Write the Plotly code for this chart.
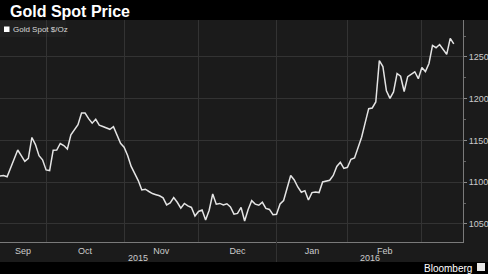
import pandas as pd
import plotly.graph_objects as go

# ---- data -------------------------------------------------------------
holidays = ["2015-12-25", "2016-01-01"]
dates = [d for d in pd.bdate_range("2015-09-14", "2016-03-14")
         if d.strftime("%Y-%m-%d") not in holidays]

prices = [
    1107.5, 1108.1, 1106.6, 1117.3, 1127.8, 1138.6, 1131.8, 1125.0, 1128.7, 1153.6,
    1145.1, 1131.8, 1126.9, 1114.7, 1114.0, 1138.3, 1138.6, 1146.4, 1143.9, 1139.8,
    1156.9, 1163.2, 1168.9, 1182.9, 1182.8, 1176.1, 1170.7, 1175.4, 1168.4, 1166.8,
    1165.1, 1163.4, 1166.5, 1156.6, 1146.6, 1141.9, 1132.0, 1118.9, 1109.9, 1102.0,
    1090.7, 1091.6, 1088.9, 1086.4, 1085.1, 1083.8, 1081.3, 1072.8, 1075.2, 1081.7,
    1076.0, 1068.9, 1074.6, 1071.6, 1069.8, 1059.6, 1065.0, 1066.8, 1054.8, 1066.4,
    1085.9, 1073.7, 1074.6, 1072.8, 1074.2, 1070.4, 1061.7, 1062.6, 1069.8, 1053.6,
    1067.4, 1077.9, 1073.8, 1072.4, 1076.0, 1068.7, 1067.4, 1061.0, 1061.6, 1074.0,
    1078.1, 1093.1, 1108.0, 1102.7, 1094.3, 1088.0, 1089.9, 1078.7, 1087.6, 1088.3,
    1087.6, 1100.3, 1100.9, 1102.3, 1108.1, 1118.9, 1123.9, 1116.5, 1117.9, 1127.5,
    1129.0, 1141.0, 1153.8, 1171.0, 1188.1, 1188.9, 1196.1, 1245.6, 1238.6, 1209.5,
    1200.5, 1208.1, 1230.2, 1226.9, 1208.7, 1226.4, 1229.4, 1232.3, 1224.0, 1237.3,
    1232.5, 1242.2, 1263.8, 1261.1, 1264.9, 1259.6, 1253.2, 1272.2, 1265.6,
]
n = min(len(dates), len(prices))
dates = dates[:n]
prices = prices[:n]

y_ticks = [1050, 1100, 1150, 1200, 1250]
series_name = "Gold Spot $/Oz"
title_text = "Gold Spot Price"
year_labels = ["2015", "2016"]

# ---- month label / grid positions (trading-day axis) -------------------
idx = pd.DatetimeIndex(dates)
months = idx.to_period("M")
firsts = [i for i in range(len(idx)) if i == 0 or months[i] != months[i - 1]]
label_pos, label_txt = [], []
for k in range(len(firsts) - 1):
    mid = (firsts[k] + firsts[k + 1]) / 2.0
    base = idx[int(mid)]
    label_pos.append(base + pd.Timedelta(days=mid - int(mid)))
    label_txt.append(idx[firsts[k]].strftime("%b"))
grid_pos = [idx[i] for i in firsts[1:]]
year_start = [idx[i] for i in firsts[1:] if idx[i].month == 1][0]
x_end = idx[-1] + pd.Timedelta(days=2.6)

# ---- figure -------------------------------------------------------------
W, H = 488, 274
L, R, T, B = 0, 25, 20, 32
pw, ph = W - L - R, H - T - B


def px(x):
    return (x - L) / pw


def py(y):
    return (H - B - y) / ph


panel = "#1b1b1b"
grid = "#333333"

fig = go.Figure()
fig.add_trace(go.Scatter(
    x=dates, y=prices, mode="lines", name=series_name,
    line=dict(color="#e4e4e4", width=1.5), hoverinfo="x+y",
))

shapes = [
    dict(type="rect", xref="paper", yref="paper", x0=px(0), x1=px(W), y0=py(262), y1=py(T),
         fillcolor=panel, line=dict(width=0), layer="below"),
    dict(type="rect", xref="paper", yref="paper", x0=px(0), x1=px(66), y0=py(37), y1=py(21),
         fillcolor="#202020", line=dict(width=0), layer="below"),
    dict(type="rect", xref="paper", yref="paper", x0=px(4), x1=px(9.5), y0=py(32), y1=py(26.5),
         fillcolor="#ffffff", line=dict(width=0)),
    dict(type="line", xref="x", yref="paper", x0=year_start, x1=year_start, y0=py(262), y1=0,
         line=dict(color=grid, width=1)),
    dict(type="rect", xref="paper", yref="paper", x0=px(477), x1=px(485), y0=py(271), y1=py(263),
         fillcolor="#e8e8e8", line=dict(width=0)),
]

annotations = [
    dict(text=series_name, xref="paper", yref="paper", x=px(11), y=py(29.5),
         xanchor="left", yanchor="middle", showarrow=False,
         font=dict(size=8, color="#d8d8d8")),
    dict(text=year_labels[0], xref="paper", yref="paper", x=px(138), y=py(257.5),
         xanchor="center", yanchor="middle", showarrow=False,
         font=dict(size=9, color="#cccccc")),
    dict(text=year_labels[1], xref="paper", yref="paper", x=px(369.5), y=py(257.5),
         xanchor="center", yanchor="middle", showarrow=False,
         font=dict(size=9, color="#cccccc")),
    dict(text="Bloomberg", xref="paper", yref="paper", x=px(474), y=py(268),
         xanchor="right", yanchor="middle", showarrow=False,
         font=dict(size=10, color="#ffffff")),
]

fig.update_layout(
    width=W, height=H,
    margin=dict(l=L, r=R, t=T, b=B),
    paper_bgcolor="#000000", plot_bgcolor=panel,
    showlegend=False,
    font=dict(family="Liberation Sans", color="#cccccc", size=9),
    title=dict(text=title_text, xref="container", yref="container",
               x=10 / W, xanchor="left", y=1 - 11.5 / H, yanchor="middle",
               font=dict(family="Liberation Sans", size=16, color="#ffffff", weight="bold")),
    shapes=shapes, annotations=annotations,
    xaxis=dict(
        type="date", range=[idx[0], x_end],
        rangebreaks=[dict(bounds=["sat", "mon"]), dict(values=holidays)],
        tickmode="array", tickvals=label_pos, ticktext=label_txt,
        ticks="", showgrid=False, zeroline=False,
        minor=dict(tickmode="array", tickvals=grid_pos, showgrid=True,
                   gridcolor=grid, gridwidth=1, ticks=""),
        showline=True, linecolor="#7a7a7a", linewidth=1,
        tickfont=dict(size=9, color="#cccccc"),
    ),
    yaxis=dict(
        side="right", range=[1028.4, 1294.3],
        tickmode="array", tickvals=y_ticks,
        showgrid=True, gridcolor=grid, gridwidth=1, zeroline=False,
        ticks="outside", ticklen=3, tickcolor="#8a8a8a",
        minor=dict(dtick=25, tick0=1025, ticks="outside", ticklen=2,
                   tickcolor="#666666", showgrid=False),
        showline=True, linecolor="#7a7a7a", linewidth=1,
        tickfont=dict(size=9, color="#cccccc"),
    ),
)

fig.write_html("out.html")
